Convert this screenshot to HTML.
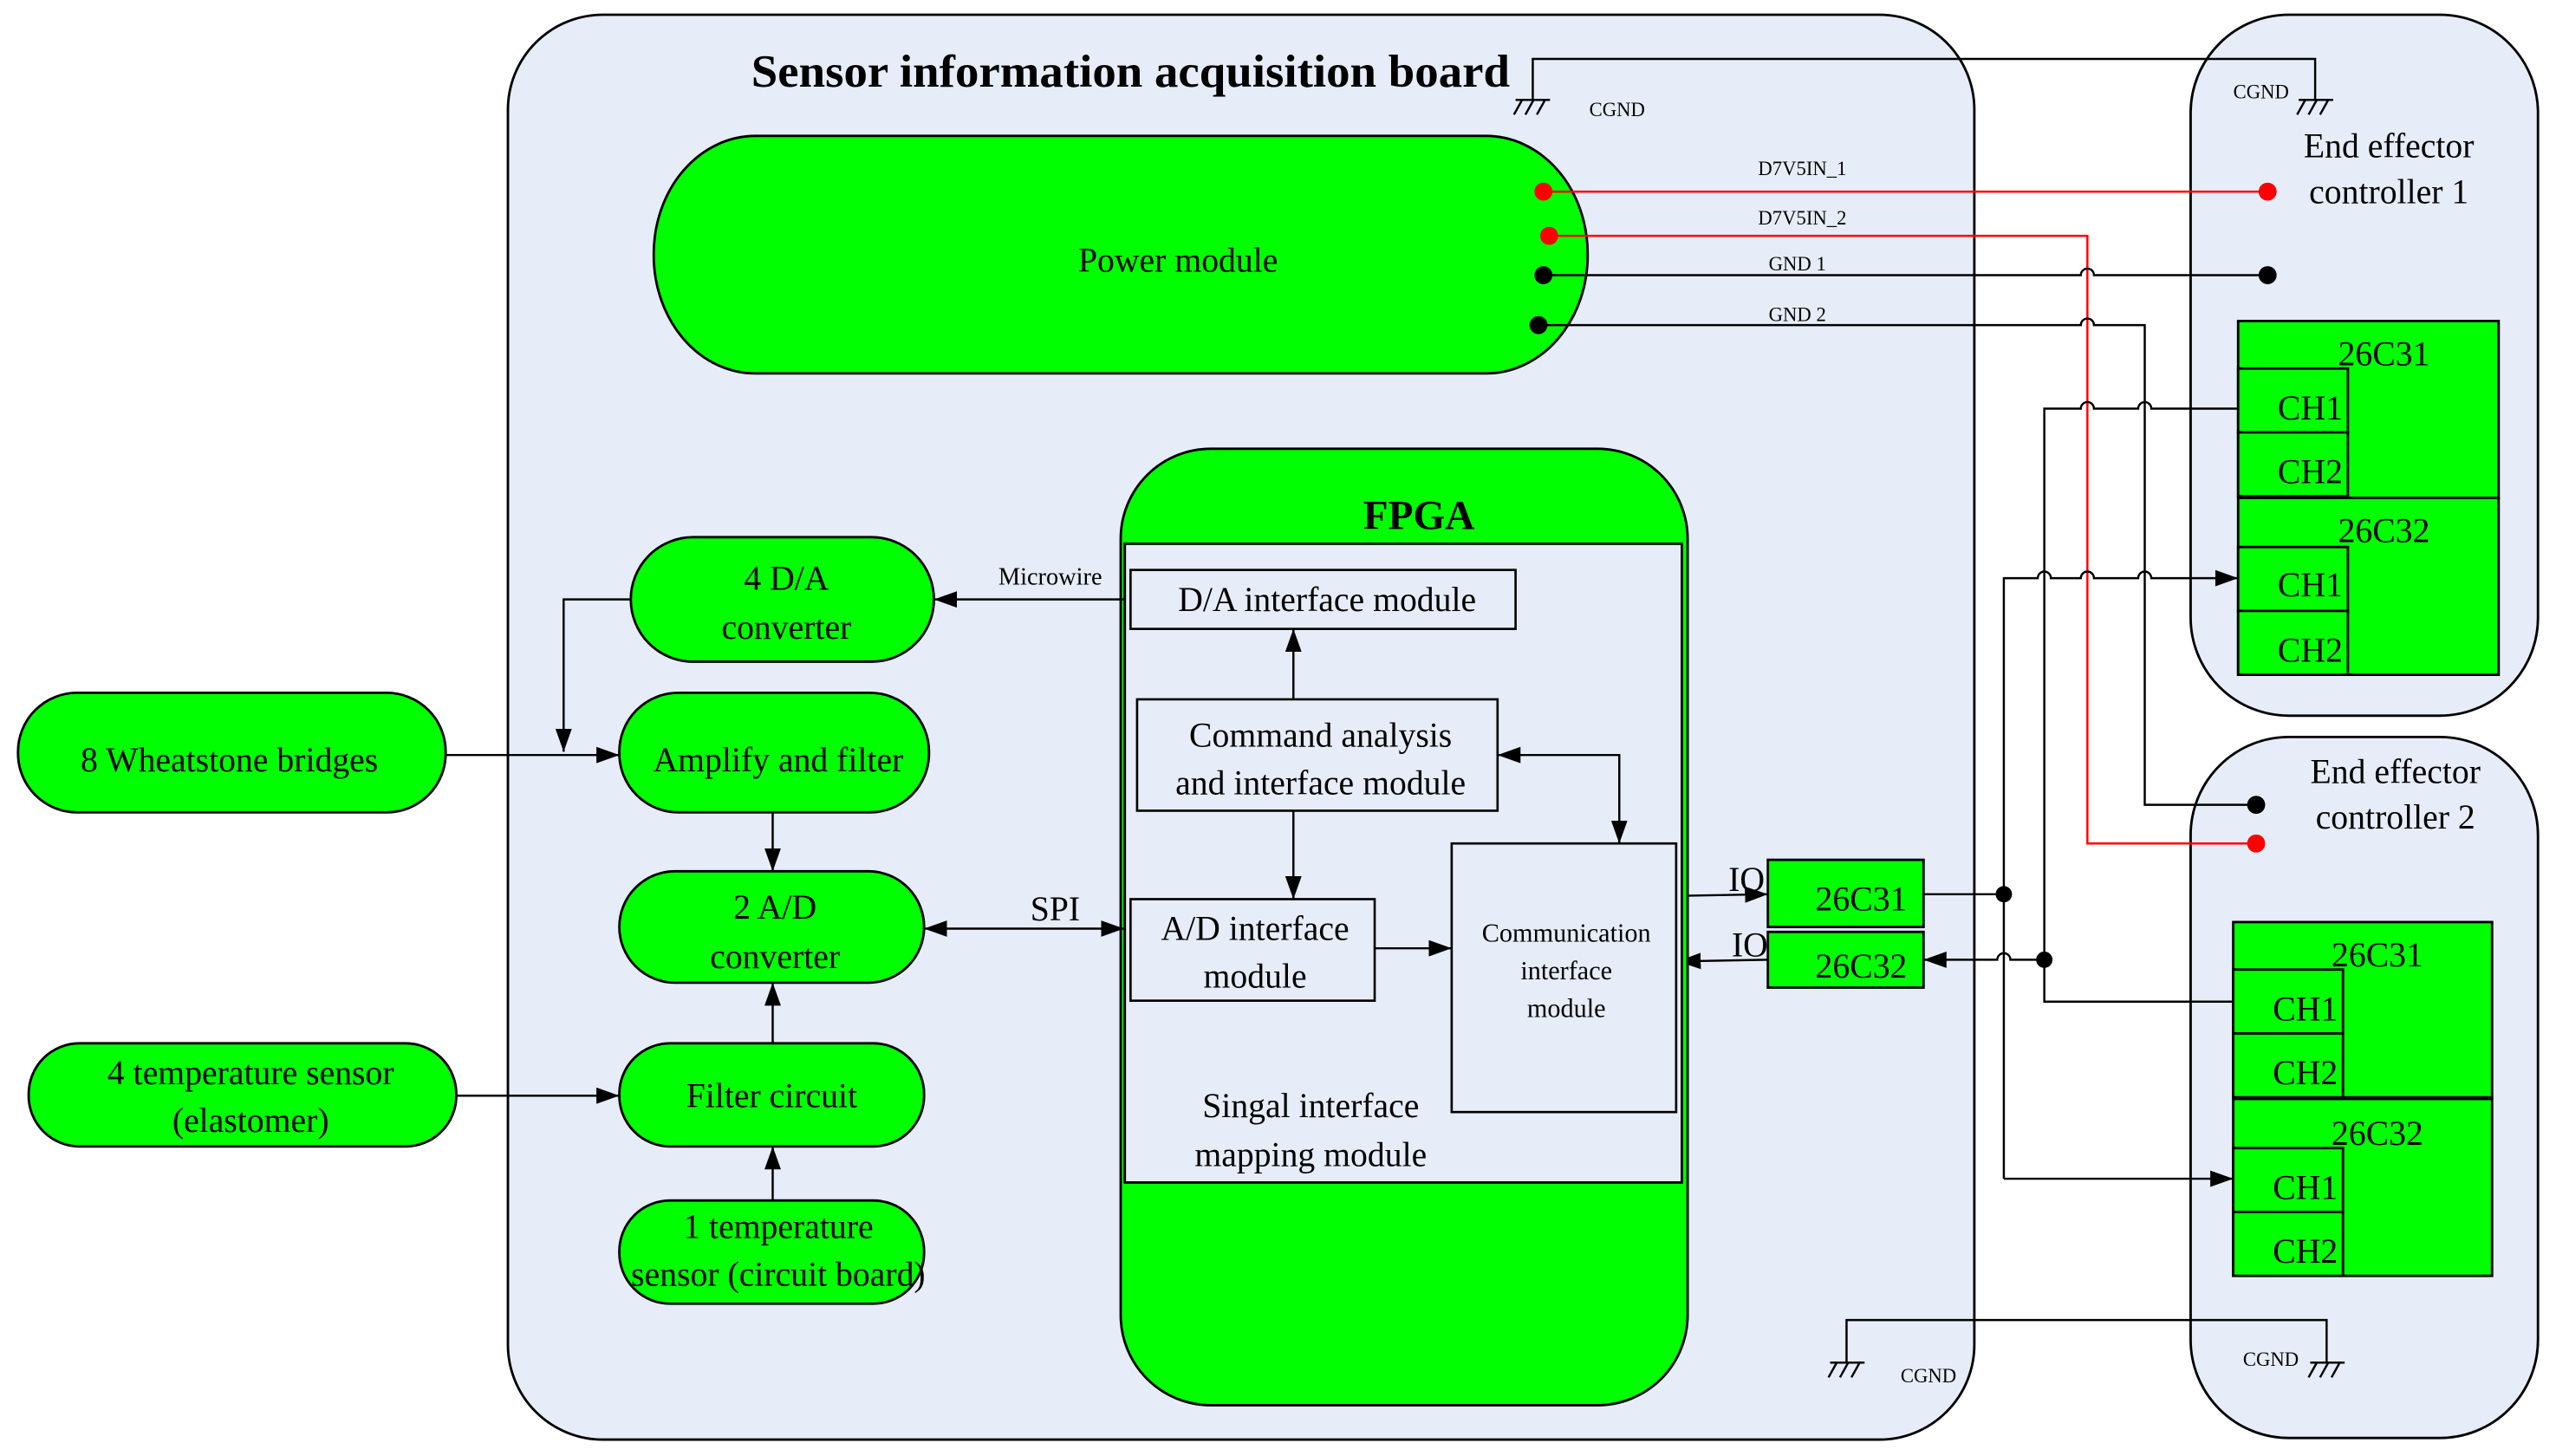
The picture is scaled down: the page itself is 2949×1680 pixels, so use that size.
<!DOCTYPE html>
<html><head><meta charset="utf-8"><style>
html,body{margin:0;padding:0;background:#fff;}
svg{display:block;}
text{font-family:"Liberation Serif",serif;fill:#000;}
</style></head><body>
<svg width="2949" height="1680" viewBox="0 0 1560 889" preserveAspectRatio="none" xmlns="http://www.w3.org/2000/svg">
<defs>
<marker id="a" viewBox="0 0 14 10" refX="14" refY="5" markerWidth="14" markerHeight="10" markerUnits="userSpaceOnUse" orient="auto-start-reverse"><path d="M0,0 L14,5 L0,10 z" fill="#000"/></marker>
</defs>
<rect width="1560" height="889" fill="#fff"/>
<!-- boards -->
<rect x="310" y="9" width="895" height="870" rx="58" fill="#e6edf8" stroke="#000" stroke-width="1.5"/>
<rect x="1337" y="9" width="212" height="428" rx="60" fill="#e6edf8" stroke="#000" stroke-width="1.5"/>
<rect x="1337" y="450" width="212" height="428" rx="60" fill="#e6edf8" stroke="#000" stroke-width="1.5"/>
<text x="690" y="53" font-size="28" font-weight="bold" text-anchor="middle" textLength="463" lengthAdjust="spacingAndGlyphs">Sensor information acquisition board</text>
<text x="1458" y="96" font-size="21" text-anchor="middle">End effector</text>
<text x="1458" y="124" font-size="21" text-anchor="middle">controller 1</text>
<text x="1462" y="478" font-size="21" text-anchor="middle">End effector</text>
<text x="1462" y="506" font-size="21" text-anchor="middle">controller 2</text>
<!-- CGND -->
<g stroke="#000" stroke-width="1.3" fill="none">
<path d="M935.5 61 V36 H1413 V61"/>
<path d="M925 61 H946 M929 61 l-5 9 M936 61 l-5 9 M943 61 l-5 9"/>
<path d="M1403 61 H1424 M1407 61 l-5 9 M1414 61 l-5 9 M1421 61 l-5 9"/>
<path d="M1127 832 V806 H1420 V832"/>
<path d="M1117 832 H1138 M1121 832 l-5 9 M1128 832 l-5 9 M1135 832 l-5 9"/>
<path d="M1410 832 H1431 M1414 832 l-5 9 M1421 832 l-5 9 M1428 832 l-5 9"/>
</g>
<text x="970" y="71" font-size="12">CGND</text>
<text x="1363" y="60" font-size="12">CGND</text>
<text x="1160" y="844" font-size="12">CGND</text>
<text x="1369" y="834" font-size="12">CGND</text>
<!-- power module -->
<rect x="399" y="83" width="570" height="145" rx="62" ry="72" fill="#00ff00" stroke="#000" stroke-width="1.5"/>
<text x="719" y="166" font-size="21" text-anchor="middle">Power module</text>
<!-- power wires -->
<g fill="none" stroke-width="1.3">
<path d="M942 117 H1384" stroke="#ff0000"/>
<path d="M945 144 H1274 V515 H1377" stroke="#ff0000"/>
<path d="M942 168 H1270 a4 4 0 0 1 8 0 H1384" stroke="#000"/>
<path d="M939 198.5 H1270 a4 4 0 0 1 8 0 H1309 V491.4 H1377" stroke="#000"/>
</g>
<g>
<circle cx="942" cy="117" r="5.5" fill="#ff0000"/><circle cx="1384" cy="117" r="5.5" fill="#ff0000"/>
<circle cx="945.5" cy="144" r="5.5" fill="#ff0000"/><circle cx="1377" cy="515" r="5.5" fill="#ff0000"/>
<circle cx="942" cy="168" r="5.5" fill="#000"/><circle cx="1384" cy="168" r="5.5" fill="#000"/>
<circle cx="939" cy="198.5" r="5.5" fill="#000"/><circle cx="1377" cy="491.4" r="5.5" fill="#000"/>
</g>
<text x="1100" y="107" font-size="12" text-anchor="middle">D7V5IN_1</text>
<text x="1100" y="137" font-size="12" text-anchor="middle">D7V5IN_2</text>
<text x="1097" y="165" font-size="12" text-anchor="middle">GND 1</text>
<text x="1097" y="196" font-size="12" text-anchor="middle">GND 2</text>
<!-- chips upper -->
<g fill="#00ff00" stroke="#000" stroke-width="1.5">
<rect x="1366" y="196" width="159" height="108"/>
<rect x="1366" y="225" width="67" height="39"/><rect x="1366" y="264" width="67" height="39"/>
<rect x="1366" y="304" width="159" height="108"/>
<rect x="1366" y="334" width="67" height="39"/><rect x="1366" y="373" width="67" height="39"/>
<rect x="1363" y="563" width="158" height="107"/>
<rect x="1363" y="592" width="67" height="39"/><rect x="1363" y="631" width="67" height="39"/>
<rect x="1363" y="671" width="158" height="108"/>
<rect x="1363" y="701" width="67" height="39"/><rect x="1363" y="740" width="67" height="39"/>
<rect x="1079" y="525" width="95" height="41"/>
<rect x="1079" y="569" width="95" height="34"/>
</g>
<g font-size="21" text-anchor="middle">
<text x="1455" y="223">26C31</text><text x="1410" y="256">CH1</text><text x="1410" y="295">CH2</text>
<text x="1455" y="331">26C32</text><text x="1410" y="364">CH1</text><text x="1410" y="404">CH2</text>
<text x="1451" y="590">26C31</text><text x="1407" y="623">CH1</text><text x="1407" y="662">CH2</text>
<text x="1451" y="699">26C32</text><text x="1407" y="732">CH1</text><text x="1407" y="771">CH2</text>
<text x="1136" y="556">26C31</text><text x="1136" y="597">26C32</text>
<text x="1066" y="544">IO</text><text x="1068" y="584">IO</text>
</g>
<!-- chip wiring -->
<g fill="none" stroke="#000" stroke-width="1.3">
<path d="M1363 611.6 H1247.7 V249.5 H1270 a4 4 0 0 1 8 0 H1305 a4 4 0 0 1 8 0 H1366"/>
<path d="M1223 719.7 V353 H1243.7 a4 4 0 0 1 8 0 H1270 a4 4 0 0 1 8 0 H1305 a4 4 0 0 1 8 0 H1366" marker-end="url(#a)"/>
<path d="M1223 719.7 H1363" marker-end="url(#a)"/>
<path d="M1174 546 H1223"/>
<path d="M1247.7 586 H1227 a4 4 0 0 0 -8 0 H1174" marker-end="url(#a)"/>
<path d="M1024 547 L1079 546" marker-end="url(#a)"/>
<path d="M1079 586 L1024 587" marker-end="url(#a)"/>
</g>
<circle cx="1223" cy="546" r="5" fill="#000"/>
<circle cx="1247.7" cy="586" r="5" fill="#000"/>
<!-- FPGA -->
<rect x="684" y="274" width="346" height="584" rx="55" fill="#00ff00" stroke="#000" stroke-width="1.5"/>
<text x="866" y="323" font-size="25" font-weight="bold" text-anchor="middle">FPGA</text>
<rect x="686.5" y="332" width="340" height="390" fill="#e6edf8" stroke="#000" stroke-width="1.5"/>
<g fill="#e6edf8" stroke="#000" stroke-width="1.4">
<rect x="690" y="348" width="235" height="36"/>
<rect x="694" y="427" width="220" height="68"/>
<rect x="690" y="549" width="149" height="62"/>
<rect x="886" y="515" width="137" height="164"/>
</g>
<g font-size="21" text-anchor="middle">
<text x="810" y="373">D/A interface module</text>
<text x="806" y="456">Command analysis</text>
<text x="806" y="485">and interface module</text>
<text x="766" y="574">A/D interface</text>
<text x="766" y="603">module</text>
<text x="800" y="682">Singal interface</text>
<text x="800" y="712">mapping module</text>
</g>
<g font-size="16" text-anchor="middle">
<text x="956" y="575">Communication</text>
<text x="956" y="598">interface</text>
<text x="956" y="621">module</text>
</g>
<g fill="none" stroke="#000" stroke-width="1.3">
<path d="M789.4 427 V384" marker-end="url(#a)"/>
<path d="M789.4 495 V549" marker-end="url(#a)"/>
<path d="M839 579 H886" marker-end="url(#a)"/>
<path d="M914 461 H988.3 V515" marker-start="url(#a)" marker-end="url(#a)"/>
</g>
<!-- left side nodes -->
<g fill="#00ff00" stroke="#000" stroke-width="1.5">
<rect x="385" y="328" width="185" height="76" rx="38"/>
<rect x="11" y="423" width="261" height="73" rx="36"/>
<rect x="378" y="423" width="189" height="73" rx="36"/>
<rect x="378" y="532" width="186" height="68" rx="34"/>
<rect x="378" y="637" width="186" height="63" rx="31"/>
<rect x="17.5" y="637" width="261" height="63" rx="31"/>
<rect x="378" y="733" width="186" height="63" rx="31"/>
</g>
<g font-size="21" text-anchor="middle">
<text x="480" y="360">4 D/A</text><text x="480" y="390">converter</text>
<text x="140" y="471">8 Wheatstone bridges</text>
<text x="475" y="471">Amplify and filter</text>
<text x="473" y="561">2 A/D</text><text x="473" y="591">converter</text>
<text x="471" y="676">Filter circuit</text>
<text x="153" y="662">4 temperature sensor</text><text x="153" y="691">(elastomer)</text>
<text x="475" y="756">1 temperature</text><text x="475" y="785">sensor (circuit board)</text>
</g>
<text x="641" y="357" font-size="15" text-anchor="middle">Microwire</text>
<text x="644" y="562" font-size="21" text-anchor="middle">SPI</text>
<g fill="none" stroke="#000" stroke-width="1.3">
<path d="M686 366 H570" marker-end="url(#a)"/>
<path d="M385 366 H344 V459" marker-end="url(#a)"/>
<path d="M272 461 H378" marker-end="url(#a)"/>
<path d="M471.6 496 V532" marker-end="url(#a)"/>
<path d="M564 567 H686" marker-start="url(#a)" marker-end="url(#a)"/>
<path d="M471.6 637 V600" marker-end="url(#a)"/>
<path d="M278.6 669 H378" marker-end="url(#a)"/>
<path d="M471.6 733 V700" marker-end="url(#a)"/>
</g>
</svg>
</body></html>
